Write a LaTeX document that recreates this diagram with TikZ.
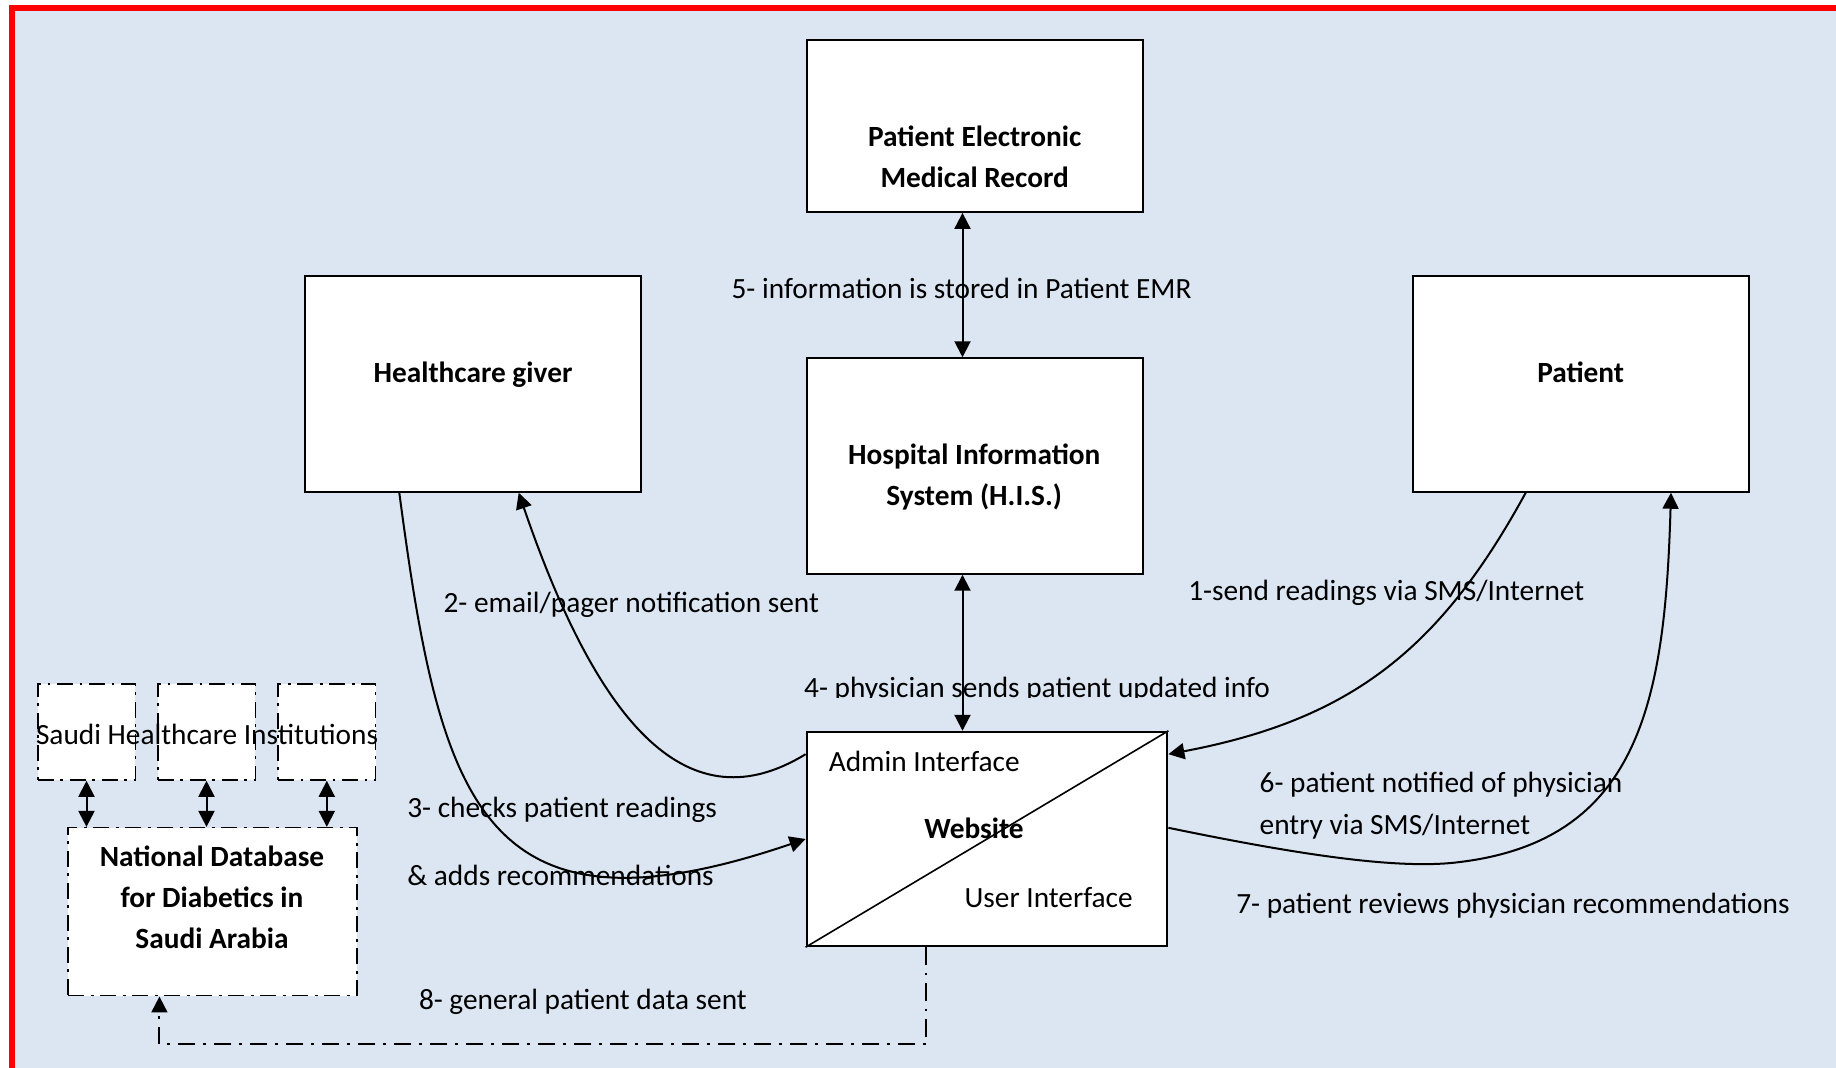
\documentclass[tikz,border=0pt]{standalone}
\usepackage{fontspec}
\setmainfont{Carlito}
\usetikzlibrary{arrows.meta,calc}

\definecolor{bgblue}{HTML}{DCE6F2}
\definecolor{framered}{HTML}{FF0000}

\begin{document}
\begin{tikzpicture}[x=0.375pt,y=-0.375pt,line width=0.75pt,
  every node/.style={font=\fontsize{11}{15.4}\selectfont},
  box/.style={draw,fill=white,line width=0.75pt,inner sep=0pt},
  dbox/.style={box,line width=0.6pt,dash pattern=on 6pt off 2.5pt on 1pt off 2.5pt},
  lbl/.style={inner sep=0pt,anchor=base west},
  ttl/.style={inner sep=0pt,anchor=base,align=center,font=\fontsize{11}{15.4}\selectfont\bfseries},
  onearr/.style={-{Triangle[length=6pt,width=6pt]}},
  twoarr/.style={{Triangle[length=6pt,width=6pt]}-{Triangle[length=6pt,width=6pt]}}]

% page and frame
\useasboundingbox (0,0) rectangle (1836,1068);
\fill[white] (0,0) rectangle (1836,1068);
\fill[bgblue] (9,5) rectangle (1836,1068);
\fill[framered] (9,5) rectangle (1836,11);
\fill[framered] (9,5) rectangle (15,1068);

% main boxes
\node[box,minimum width=126pt,minimum height=64.5pt] (emr) at (974.7,125.9) {};
\node[box,minimum width=126pt,minimum height=80.8pt] (his) at (974.7,466) {};
\node[box,minimum width=126pt,minimum height=80.8pt] (giver) at (472.5,384) {};
\node[box,minimum width=126pt,minimum height=80.8pt] (patient) at (1581.3,384) {};
\node[box,minimum width=135.3pt,minimum height=80.4pt] (web) at (987,839) {};
\draw[line width=0.6pt] (web.south west) -- (web.north east);

% institutions and national database
\foreach \i/\cx in {1/86.5,2/206.5,3/326.8}
  \node[dbox,minimum width=36.6pt,minimum height=36pt] (inst\i) at (\cx,732) {};
\node[dbox,minimum width=108.2pt,minimum height=63pt] (ndb) at (212.5,911.7) {};

% box titles (base = last line)
\node[ttl] (emrtxt) at (974.7,187.5) {Patient Electronic\\Medical Record};
\node[ttl] (histxt) at (974.2,506) {Hospital Information\\System (H.I.S.)};
\node[ttl] (givertxt) at (473,383) {Healthcare giver};
\node[ttl] (pattxt) at (1580.7,383) {Patient};
\node[ttl] (webtxt) at (974,838.5) {Website};
\node[ttl] (ndbtxt) at (212,948.5) {National Database\\for Diabetics in\\Saudi Arabia};
\node[lbl] (admin) at (827.8,771.8) {Admin Interface};
\node[lbl] (user) at (963.6,907.6) {User Interface};
\node[lbl] (instlbl) at (35,744.8) {Saudi Healthcare Institutions};

% step labels
\node[lbl] (l5) at (730.6,298.7) {5- information is stored in Patient EMR};
\node[lbl] (l2) at (442.6,612.5) {2- email/pager notification sent};
\node[lbl] (l1) at (1187.3,600.8) {1-send readings via SMS/Internet};
\begin{scope}
  \clip (780,650) rectangle (1300,698);
  \node[lbl] (l4) at (803.2,698) {4- physician sends patient updated info};
\end{scope}
\node[lbl] (l3a) at (406.3,817.5) {3- checks patient readings};
\node[lbl] (l3b) at (406.3,885.3) {\& adds recommendations};
\node[lbl] (l6a) at (1258.7,792.8) {6- patient notified of physician};
\node[lbl] (l6b) at (1258.7,835) {entry via SMS/Internet};
\node[lbl] (l7) at (1235.3,913.5) {7- patient reviews physician recommendations};
\node[lbl] (l8) at (418,1009.5) {8- general patient data sent};

% connectors
\draw[twoarr] ($(emr.south)+(-12.2,0)$) -- ($(his.north)+(-12.2,0)$);
\draw[twoarr] ($(his.south)+(-12.2,0)$) coordinate (hs) -- (hs |- web.north);
\draw[onearr] ($(patient.south)+(-55.6,0)$) .. controls (1440,650) and (1350,720) .. ($(web.north east)+(0,23.4)$);
\draw[onearr] ($(web.north west)+(0,23.4)$) .. controls (690,825) and (600,730) .. ($(giver.south)+(46.2,0)$);
\draw[onearr] ($(giver.south)+(-73.2,0)$) .. controls (440,800) and (480,950) .. (web.west);
\draw[onearr] ($(web.east)+(0,-11.2)$) .. controls (1300,855) and (1400,870) .. (1460,862)
  .. controls (1640,840) and (1665,700) .. ($(patient.south)+(89.7,0)$);
\foreach \i in {1,2,3}
  \draw[twoarr] (inst\i.south) -- (inst\i.south |- ndb.north);
\draw[onearr,dash pattern=on 6.5pt off 3pt on 1pt off 3pt]
  ($(web.south west)+(120.7,0)$) -- ++(0,97) -| ($(ndb.south west)+(92,0)$);
\end{tikzpicture}
\end{document}
